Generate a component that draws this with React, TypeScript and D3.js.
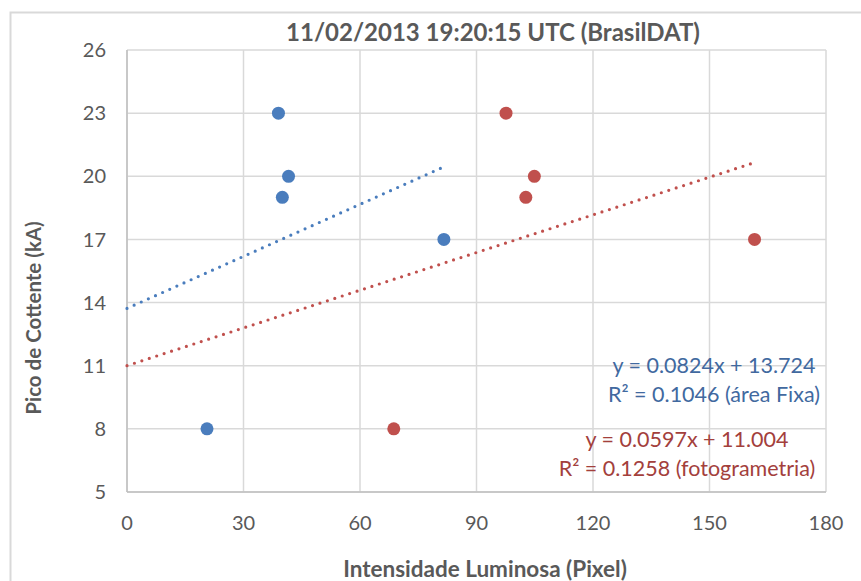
import * as d3 from 'd3';

const chartTitle = '11/02/2013 19:20:15 UTC (BrasilDAT)';
const xTitle = 'Intensidade Luminosa (Pixel)';
const yTitle = 'Pico de Cottente (kA)';

const xTicks = [0, 30, 60, 90, 120, 150, 180];
const yTicks = [5, 8, 11, 14, 17, 20, 23, 26];

// área fixa
const fixaX = [39, 41.6, 40, 81.6, 20.6];
const fixaY = [23, 20, 19, 17, 8];
const fixaFit = { slope: 0.0824, intercept: 13.724, r2: '0.1046', label: 'área Fixa' };

// fotogrametria
const fotoX = [97.6, 104.9, 102.7, 161.6, 68.7];
const fotoY = [23, 20, 19, 17, 8];
const fotoFit = { slope: 0.0597, intercept: 11.004, r2: '0.1258', label: 'fotogrametria' };

const W = 861;
const H = 581;
const font = 'Lato, "Open Sans", sans-serif';
const grey = '#595959';

export default function App() {
  const x = d3.scaleLinear().domain([0, 180]).range([127, 826]);
  const y = d3.scaleLinear().domain([5, 26]).range([492, 50]);

  const series = [
    { xs: fixaX, ys: fixaY, fit: fixaFit, color: '#4a7dbd', text: '#41699f', tx: 714, ty: 373 },
    { xs: fotoX, ys: fotoY, fit: fotoFit, color: '#c0504d', text: '#a3403c', tx: 687, ty: 447 },
  ];

  const line = d3
    .line<number[]>()
    .x(d => x(d[0]))
    .y(d => y(d[1]));

  return (
    <svg width={W} height={H} style={{ position: 'absolute', left: 0, top: 0, background: '#fff' }} fontFamily={font}>
      {/* chart border */}
      <path d={`M10.5,${H} V12.5 H${W}`} fill="none" stroke="#d9d9d9" strokeWidth={2} />

      {/* gridlines */}
      {yTicks.map(t => (
        <line key={'gy' + t} x1={x(0)} x2={x(180)} y1={y(t)} y2={y(t)} stroke="#d9d9d9" strokeWidth={1.5} />
      ))}
      {xTicks.map(t => (
        <line key={'gx' + t} x1={x(t)} x2={x(t)} y1={y(5)} y2={y(26)} stroke="#d9d9d9" strokeWidth={1.5} />
      ))}
      {/* axes */}
      <line x1={x(0)} x2={x(0)} y1={y(5)} y2={y(26)} stroke="#bfbfbf" strokeWidth={1.5} />
      <line x1={x(0)} x2={x(180)} y1={y(5)} y2={y(5)} stroke="#bfbfbf" strokeWidth={1.5} />

      {/* tick labels */}
      {yTicks.map(t => (
        <text key={'ly' + t} x={106} y={y(t)} dy="0.36em" textAnchor="end" fontSize={20} fill={grey}>
          {t}
        </text>
      ))}
      {xTicks.map(t => (
        <text key={'lx' + t} x={x(t)} y={530} textAnchor="middle" fontSize={20} fill={grey}>
          {t}
        </text>
      ))}

      {/* trendlines */}
      {series.map((s, i) => {
        const xmax = d3.max(s.xs)!;
        const pts = [0, xmax].map(v => [v, s.fit.slope * v + s.fit.intercept]);
        return (
          <path
            key={'tr' + i}
            d={line(pts)!}
            fill="none"
            stroke={s.color}
            strokeWidth={3.2}
            strokeLinecap="round"
            strokeDasharray="0 7.8"
          />
        );
      })}

      {/* points */}
      {series.map((s, i) =>
        s.xs.map((v, j) => <circle key={`p${i}-${j}`} cx={x(v)} cy={y(s.ys[j])} r={6.5} fill={s.color} />)
      )}

      {/* equations */}
      {series.map((s, i) => (
        <text key={'eq' + i} x={s.tx} y={s.ty} textAnchor="middle" fontSize={21.5} fill={s.text}>
          <tspan x={s.tx}>{`y = ${s.fit.slope}x + ${s.fit.intercept.toFixed(3)}`}</tspan>
          <tspan x={s.tx} dy={29}>{`R² = ${s.fit.r2} (${s.fit.label})`}</tspan>
        </text>
      ))}

      {/* titles */}
      <text x={493} y={41} textAnchor="middle" fontSize={24} fontWeight="bold" fill={grey}>
        {chartTitle}
      </text>
      <text x={485} y={577} textAnchor="middle" fontSize={22.5} fontWeight="bold" fill={grey}>
        {xTitle}
      </text>
      <text
        transform={`translate(41,318) rotate(-90)`}
        textAnchor="middle"
        fontSize={20.5}
        fontWeight="bold"
        fill={grey}
      >
        {yTitle}
      </text>
    </svg>
  );
}
